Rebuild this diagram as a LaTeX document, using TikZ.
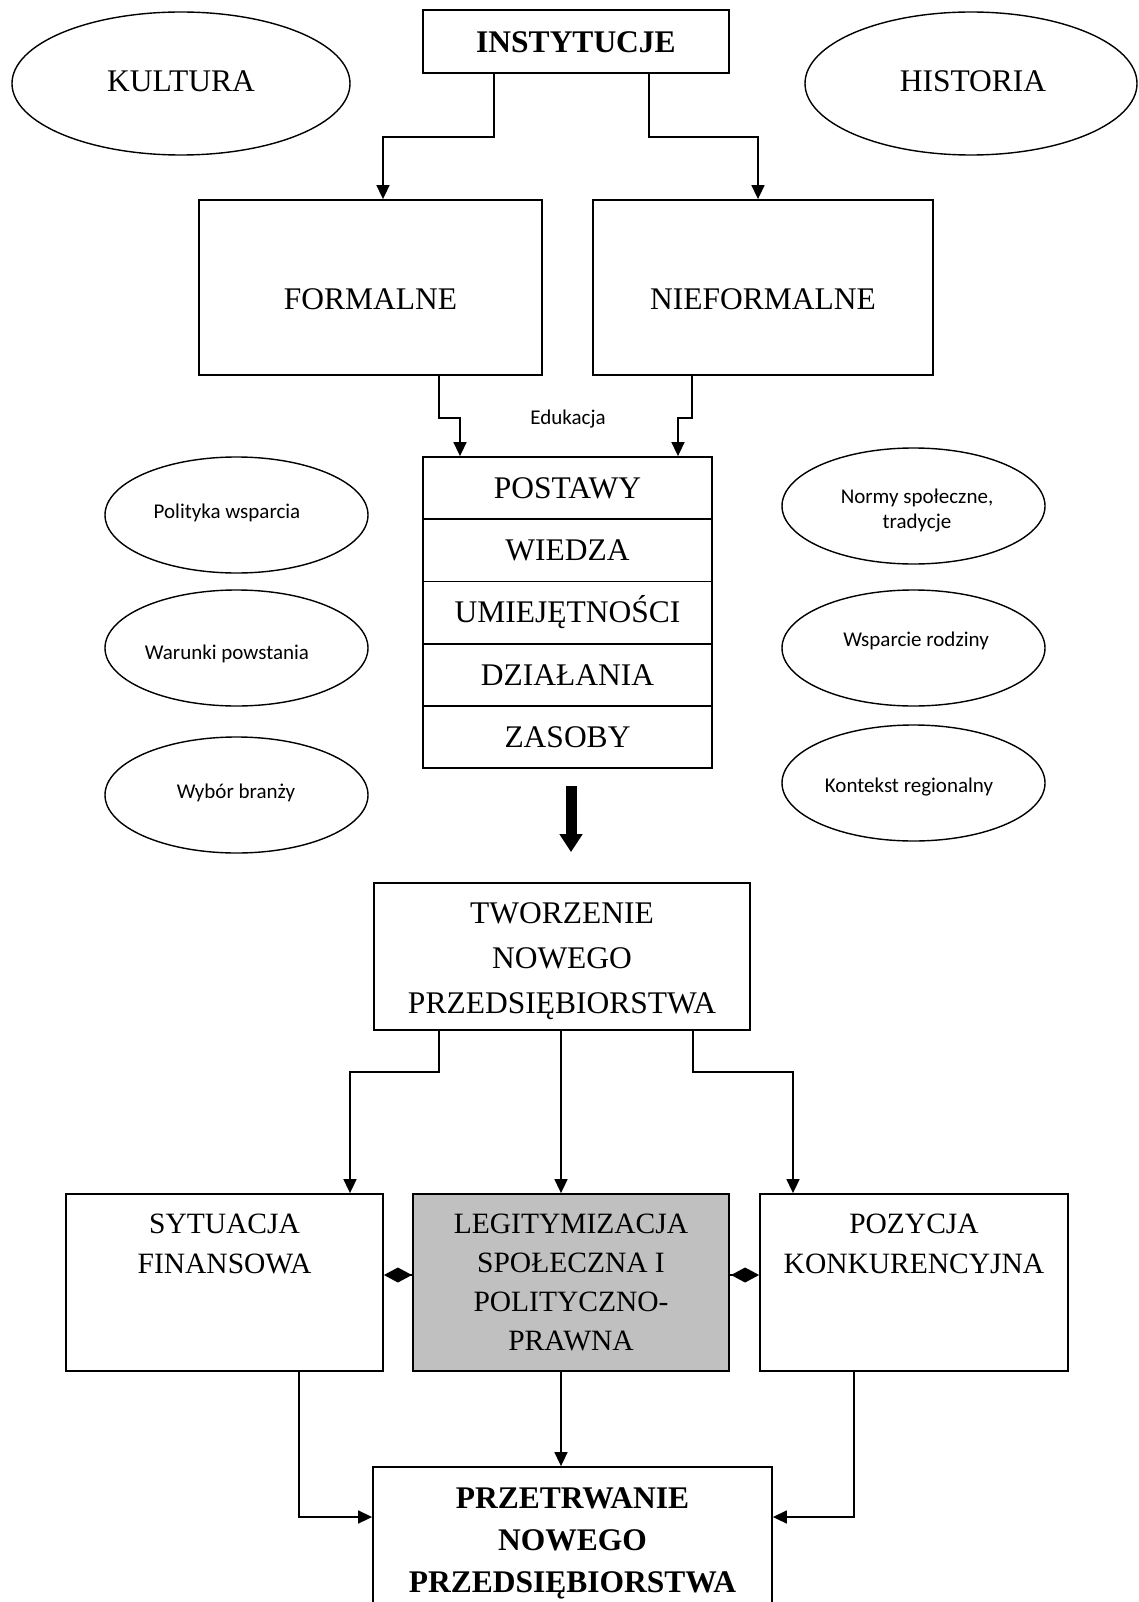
\documentclass[tikz,border=0pt]{standalone}
\usepackage{fontspec}
\setmainfont{Liberation Serif}
\newfontfamily\calibrifont{Carlito}
\usetikzlibrary{arrows.meta,shapes.geometric}
\definecolor{legfill}{RGB}{192,192,192}
\begin{document}
\begin{tikzpicture}[x=1pt,y=-1pt,
  box/.style={draw, line width=1.8pt, rectangle, inner sep=0pt},
  oval/.style={draw, line width=1.4pt, ellipse, inner sep=0pt},
  big/.style={font=\fontsize{31.5pt}{45pt}\selectfont, inner sep=0pt, align=center},
  mid/.style={font=\fontsize{29.5pt}{40pt}\selectfont, inner sep=0pt, align=center},
  bigb/.style={font=\bfseries\fontsize{31.5pt}{42pt}\selectfont, inner sep=0pt, align=center},
  small/.style={font=\calibrifont\fontsize{21pt}{25pt}\selectfont, inner sep=0pt, align=center},
  rowbox/.style={box, minimum width=289pt, minimum height=62.2pt, text height=20.6pt, text depth=0pt, font=\fontsize{31.5pt}{45pt}\selectfont},
  smalloval/.style={oval, minimum width=263pt, minimum height=116pt},
  arr/.style={line width=1.6pt, -{Triangle[length=14pt,width=13pt]}},
  dia/.style={line width=1.6pt, -{Diamond[length=28pt,width=15pt]}},
]
\useasboundingbox (0,0) rectangle (1139,1602);

% top
\node[box, minimum width=306pt, minimum height=63pt] (inst) at (576,41.5) {};
\node[bigb, anchor=base] (instT) at (576,53) {INSTYTUCJE};
\node[oval, minimum width=338pt, minimum height=143pt] (kult) at (181,83.5) {};
\node[big, anchor=base] (kultT) at (181,92) {KULTURA};
\node[oval, minimum width=332pt, minimum height=143pt] (hist) at (971,83.5) {};
\node[big, anchor=base] (histT) at (973,92) {HISTORIA};

\node[box, minimum width=343pt, minimum height=175pt] (form) at (370.5,287.5) {};
\node[big, anchor=base] (formT) at (370.5,309) {FORMALNE};
\node[box, minimum width=340pt, minimum height=175pt] (nief) at (763,287.5) {};
\node[big, anchor=base] (niefT) at (763,309) {NIEFORMALNE};

\node[small, anchor=base] (edu) at (568,424) {Edukacja};

% list
\node[rowbox] (r1) at (567.5,488.1) {POSTAWY};
\node[rowbox] (r2) at (567.5,550.3) {WIEDZA};
\node[rowbox] (r3) at (567.5,612.5) {UMIEJĘTNOŚCI};
\node[rowbox] (r4) at (567.5,674.7) {DZIAŁANIA};
\node[rowbox] (r5) at (567.5,736.9) {ZASOBY};

% side ellipses
\node[smalloval] (pol) at (236.5,515) {};
\node[small, anchor=base] (polT) at (227,518) {Polityka wsparcia};
\node[smalloval] (war) at (236.5,648) {};
\node[small, anchor=base] (warT) at (227,659) {Warunki powstania};
\node[smalloval] (wyb) at (236.5,795) {};
\node[small, anchor=base] (wybT) at (236,798) {Wybór branży};
\node[smalloval] (nor) at (913.5,506) {};
\node[small, anchor=north] (norT) at (917,488.5) {Normy społeczne,\\tradycje};
\node[smalloval] (wsp) at (913.5,648) {};
\node[small, anchor=base] (wspT) at (916,646) {Wsparcie rodziny};
\node[smalloval] (kon) at (913.5,783) {};
\node[small, anchor=base] (konT) at (909,792) {Kontekst regionalny};

% lower part
\node[box, minimum width=376pt, minimum height=147pt] (twor) at (562,956.5) {};
\node[big, anchor=north] (tworT) at (562,902.4) {TWORZENIE\\NOWEGO\\PRZEDSIĘBIORSTWA};

\node[box, minimum width=317pt, minimum height=177pt] (syt) at (224.5,1282.5) {};
\node[mid, anchor=north] (sytT) at (224.5,1213.5) {SYTUACJA\\FINANSOWA};
\node[box, fill=legfill, minimum width=316pt, minimum height=177pt] (leg) at (571,1282.5) {};
\node[mid, anchor=north, font=\fontsize{29.5pt}{39pt}\selectfont] (legT) at (571,1213.5) {LEGITYMIZACJA\\SPOŁECZNA I\\POLITYCZNO-\\PRAWNA};
\node[box, minimum width=308pt, minimum height=177pt] (poz) at (914,1282.5) {};
\node[mid, anchor=north] (pozT) at (914,1213.5) {POZYCJA\\KONKURENCYJNA};

\node[box, minimum width=399pt, minimum height=143pt] (prz) at (572.5,1538.5) {};
\node[bigb, anchor=north] (przT) at (572.5,1487.4) {PRZETRWANIE\\NOWEGO\\PRZEDSIĘBIORSTWA};

% connectors
\draw[arr] ([xshift=-82pt]inst.south) -- ++(0,63) -| ([xshift=12.5pt]form.north);
\draw[arr] ([xshift=73pt]inst.south) -- ++(0,63) -| ([xshift=-5pt]nief.north);
\draw[arr] ([xshift=68.5pt]form.south) -- ++(0,42) -| ([xshift=-107.5pt]r1.north);
\draw[arr] ([xshift=-71pt]nief.south) -- ++(0,42) -| ([xshift=110.5pt]r1.north);

\draw[line width=11pt, -{Triangle[length=18pt,width=22pt]}, shorten <=17pt, shorten >=30pt]
  ([xshift=3.5pt]r5.south) -- ([xshift=3.5pt]r5.south |- twor.north);

\draw[arr] ([xshift=-123pt]twor.south) -- ++(0,41) -| ([xshift=125.5pt]syt.north);
\draw[arr] ([xshift=-1pt]twor.south) -- ([xshift=-1pt]twor.south |- leg.north);
\draw[arr] ([xshift=131pt]twor.south) -- ++(0,41) -| ([xshift=-121pt]poz.north);

\draw[dia] ([yshift=7.5pt]leg.west) -- ([yshift=7.5pt]syt.east);
\draw[dia] ([yshift=7.5pt]leg.east) -- ([yshift=7.5pt]poz.west);

\draw[arr] ([xshift=74.5pt]syt.south) |- ([yshift=21.5pt]prz.west);
\draw[arr] ([xshift=-10pt]leg.south) -- ([xshift=-10pt]leg.south |- prz.north);
\draw[arr] ([xshift=-60pt]poz.south) |- ([yshift=21.5pt]prz.east);
\end{tikzpicture}
\end{document}
